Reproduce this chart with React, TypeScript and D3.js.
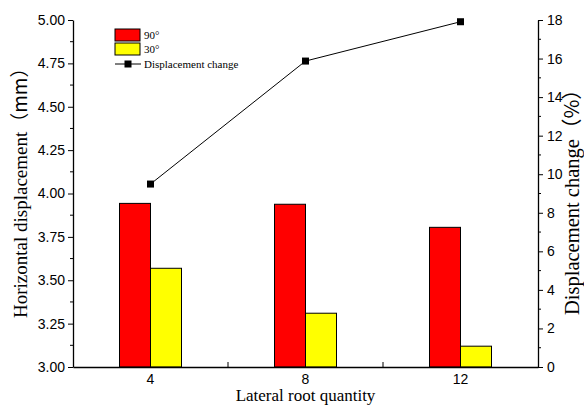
import { useEffect, useRef } from 'react'
import * as d3 from 'd3'

// values
const categories = ['4', '8', '12']
const series90 = [3.943, 3.938, 3.805]
const series30 = [3.569, 3.31, 3.12]
const displacementChange = [9.49, 15.87, 17.91]
const seriesNames = ['90°', '30°']
const leftTicks = [3.0, 3.25, 3.5, 3.75, 4.0, 4.25, 4.5, 4.75, 5.0]
const rightTicks = [0, 2, 4, 6, 8, 10, 12, 14, 16, 18]

const WIDTH = 584
const HEIGHT = 405
const SERIF = '"Liberation Serif", "Times New Roman", serif'
const SANS = '"Liberation Sans", Arial, sans-serif'
const CJK = '"Noto Sans CJK SC", "Liberation Serif", serif'

function App() {
  const svgRef = useRef<SVGSVGElement | null>(null)

  useEffect(() => {
    if (!svgRef.current) return
    const svg = d3.select(svgRef.current)
    svg.selectAll('*').remove()

    const margin = { top: 20, right: 46, bottom: 38, left: 73 }
    const x0 = margin.left
    const x1 = WIDTH - margin.right
    const yTop = margin.top
    const yBottom = HEIGHT - margin.bottom

    const x = d3.scaleBand<string>().domain(categories).range([x0, x1]).padding(0)
    const barW = 31
    const xs = d3.scaleBand<string>()
      .domain(seriesNames)
      .range([x.bandwidth() / 2 - barW, x.bandwidth() / 2 + barW])
      .padding(0)

    const y = d3.scaleLinear().domain([3, 5]).range([yBottom, yTop])
    const y2 = d3.scaleLinear().domain([0, 18]).range([yBottom, yTop])

    // bars
    const colors = ['#ff0000', '#ffff00']
    const seriesData = [series90, series30]
    seriesData.forEach((vals, si) => {
      svg.append('g')
        .selectAll('rect')
        .data(vals)
        .enter()
        .append('rect')
        .attr('x', (_, i) => (x(categories[i]) as number) + (xs(seriesNames[si]) as number))
        .attr('y', d => y(d))
        .attr('width', xs.bandwidth())
        .attr('height', d => y(3) - y(d))
        .attr('fill', colors[si])
        .attr('stroke', '#000')
        .attr('stroke-width', 1)
    })

    // line + markers
    const cx = (c: string) => (x(c) as number) + x.bandwidth() / 2
    const line = d3.line<number>()
      .x((_, i) => cx(categories[i]))
      .y(d => y2(d))
    svg.append('path')
      .datum(displacementChange)
      .attr('d', line)
      .attr('fill', 'none')
      .attr('stroke', '#000')
      .attr('stroke-width', 1)
    svg.append('g')
      .selectAll('rect')
      .data(displacementChange)
      .enter()
      .append('rect')
      .attr('x', (_, i) => cx(categories[i]) - 3.5)
      .attr('y', d => y2(d) - 3.5)
      .attr('width', 7)
      .attr('height', 7)
      .attr('fill', '#000')

    // left axis
    const minorLeft = d3.range(3.125, 5, 0.25)
    const gl = svg.append('g')
      .attr('transform', `translate(${x0},0)`)
      .call(d3.axisLeft(y).tickValues(leftTicks).tickFormat(d3.format('.2f')).tickSize(5).tickPadding(3).tickSizeOuter(0))
    gl.selectAll('.minor')
      .data(minorLeft)
      .enter()
      .append('line')
      .attr('x1', 0)
      .attr('x2', -3)
      .attr('y1', d => y(d))
      .attr('y2', d => y(d))
      .attr('stroke', '#000')

    // right axis
    const minorRight = d3.range(1, 18, 2)
    const gr = svg.append('g')
      .attr('transform', `translate(${x1},0)`)
      .call(d3.axisRight(y2).tickValues(rightTicks).tickSize(5).tickPadding(4).tickSizeOuter(0))
    gr.selectAll('.minor')
      .data(minorRight)
      .enter()
      .append('line')
      .attr('x1', 0)
      .attr('x2', 3)
      .attr('y1', d => y2(d))
      .attr('y2', d => y2(d))
      .attr('stroke', '#000')

    // bottom axis: labels at centres, ticks at band boundaries pointing in
    const gb = svg.append('g')
      .attr('transform', `translate(0,${yBottom})`)
      .call(d3.axisBottom(x).tickSize(0).tickPadding(7).tickSizeOuter(0))
    gb.selectAll('.bound')
      .data(categories.slice(1))
      .enter()
      .append('line')
      .attr('x1', d => x(d) as number)
      .attr('x2', d => x(d) as number)
      .attr('y1', 0)
      .attr('y2', -5)
      .attr('stroke', '#000')

    svg.selectAll('.domain').attr('stroke', '#000').attr('stroke-width', 1.3)
    svg.selectAll('.tick line').attr('stroke', '#000')
    svg.selectAll('.tick text')
      .attr('font-family', SANS)
      .attr('font-size', 14)
      .attr('fill', '#000')

    // axis titles
    svg.append('text')
      .attr('x', (x0 + x1) / 2)
      .attr('y', 401)
      .attr('text-anchor', 'middle')
      .attr('font-family', SERIF)
      .attr('font-size', 17)
      .text('Lateral root quantity')

    svg.append('text')
      .attr('transform', 'translate(27,318) rotate(-90)')
      .attr('text-anchor', 'start')
      .attr('font-family', SERIF)
      .attr('font-size', 19)
      .call(t => {
        t.append('tspan').text('Horizontal displacement')
        t.append('tspan').attr('font-family', CJK).text('（mm）')
      })

    svg.append('text')
      .attr('transform', 'translate(579,315) rotate(-90)')
      .attr('text-anchor', 'start')
      .attr('font-family', SERIF)
      .attr('font-size', 20.5)
      .call(t => {
        t.append('tspan').text('Displacement change')
        t.append('tspan').attr('font-family', CJK).text('（%）')
      })

    // legend
    const lg = svg.append('g').attr('transform', 'translate(115,29)')
    seriesNames.forEach((name, i) => {
      lg.append('rect')
        .attr('x', 0)
        .attr('y', i * 14)
        .attr('width', 25)
        .attr('height', 12)
        .attr('fill', colors[i])
        .attr('stroke', '#000')
      lg.append('text')
        .attr('x', 29)
        .attr('y', i * 14 + 10)
        .attr('font-family', SERIF)
        .attr('font-size', 11)
        .text(name)
    })
    lg.append('line')
      .attr('x1', 0)
      .attr('x2', 26)
      .attr('y1', 35)
      .attr('y2', 35)
      .attr('stroke', '#000')
    lg.append('rect')
      .attr('x', 9.5)
      .attr('y', 31.5)
      .attr('width', 7)
      .attr('height', 7)
      .attr('fill', '#000')
    lg.append('text')
      .attr('x', 29)
      .attr('y', 39)
      .attr('font-family', SERIF)
      .attr('font-size', 11)
      .text('Displacement change')
  }, [])

  return (
    <svg
      ref={svgRef}
      width={WIDTH}
      height={HEIGHT}
      style={{ position: 'absolute', left: 0, top: 0, background: '#fff' }}
    />
  )
}

export default App
